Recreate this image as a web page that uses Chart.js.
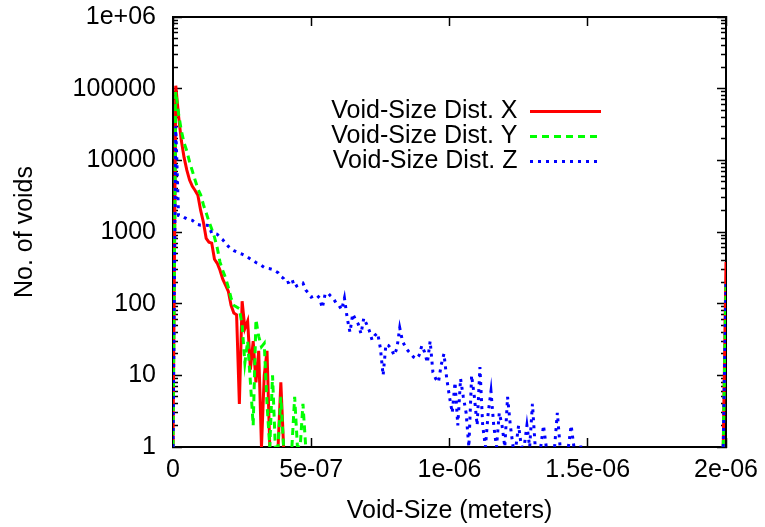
<!DOCTYPE html>
<html>
<head>
<meta charset="utf-8">
<title>Void-size distribution</title>
<script src="https://cdn.jsdelivr.net/npm/chart.js@4.4.1/dist/chart.umd.min.js"></script>
<style>
  html, body { margin: 0; padding: 0; background: #fff; }
  canvas { display: block; }
</style>
</head>
<body>
<canvas id="voidChart" width="765" height="527"></canvas>
<script>
// histogram bins are 10 nm wide, bin k sits at x = k * binWidth
const binWidth = 1e-8;
const lastBin = 200; // everything from 2e-06 m up lands in this bin

// counts per bin (null = empty bin)
const countsX = [1, 110000, 42000, 19000, 11000, 7300, 5300, 4350, 3800, 3250,
  2000, 1370, 815, 720, 700, 417, 366, 293, 220, 181,
  149, 95, 74, 70, 4, 108, 45, 57, 12, 30,
  8, 22, 1, 10, 22, 1, null, null, 1, 8, 1];

const countsY = [1, 90000, 45000, 26000, 17500, 13500, 9500, 7100, 5300, 4000,
  3300, 2400, 1850, 1400, 1100, 850, 600, 380, 290, 230,
  170, 120, 95, 90, 85, 50, 15, 30, 8, 2,
  60, 35, 25, 28, 4, 1, 10, 1, 1, 5,
  1, null, null, 1, 5, 1, 1, 4, 1];

const countsZ = [1, 30000, 1700, 1680, 1600, 1530, 1490, 1450, 1350, 1270,
  1240, 1240, 1240, 1230, 960, 950, 930, 840, 780, 700,
  630, 580, 550, 530, 505, 490, 470, 445, 420, 400,
  375, 360, 340, 320, 312, 308, 300, 285, 270, 240,
  225, 195, 200, 221, 170, 180, 188, 194, 155, 140,
  123, 128, 132, 120, 87, 135, 141, 128, 118, 102,
  95, 82, 120, 63, 40, 72, 60, 52, 38, 63,
  52, 42, 31, 36, 39, 24, 10, 27, 26, 23,
  19, 24, 46, 30, 25, 22, 20, 18, 17, 19,
  26, 21, 15, 30, 11, 9, 8, 14, 20, 9,
  5, 3, 8, 2, 9, 5, 3, 1, 10, 5,
  2, 13, 2, 1, 3, 6, 2, 1, 3, 2,
  1, 5, 2, 1, 1, 2, 1, 1, 2, 1,
  4, 1, null, 1, 2, 1, null, null, 1, 3,
  1, null, null, 1, 2, 1, null, 1, 1];

// overflow bin counts
const overflowX = 380;
const overflowY = 190;
const overflowZ = 190;

const seriesLabels = ['Void-Size Dist. X', 'Void-Size Dist. Y', 'Void-Size Dist. Z'];

const xTicks = [0, 5e-7, 1e-6, 1.5e-6, 2e-6];
const xTickLabels = ['0', '5e-07', '1e-06', '1.5e-06', '2e-06'];
const yTicks = [1, 10, 100, 1000, 10000, 100000, 1000000];
const yTickLabels = ['1', '10', '100', '1000', '10000', '100000', '1e+06'];

// 2..9 inside every decade
const yMinorTicks = [];
yTicks.slice(0, -1).forEach(d => {
  for (let m = 2; m <= 9; m++) yMinorTicks.push(m * d);
});

function binPoints(counts, overflow) {
  const pts = counts.map((c, k) => ({ x: k * binWidth, y: c }));
  pts.push({ x: counts.length * binWidth, y: null });
  pts.push({ x: (lastBin - 1) * binWidth, y: 1 });
  pts.push({ x: lastBin * binWidth, y: overflow });
  return pts;
}

Chart.defaults.font.family = '"Liberation Sans", Arial, sans-serif';
Chart.defaults.font.size = 25;
Chart.defaults.color = '#000';

const setTicks = values => scale => {
  scale.ticks = values.map(v => ({ value: v }));
};

// fixed axis thickness, no extra room for label overhang
const fixSize = size => s => {
  if (s.isHorizontal()) s.height = size; else s.width = size;
  s.paddingTop = s.paddingBottom = s.paddingLeft = s.paddingRight = 0;
};

// tick marks point into the plot, gnuplot style
function frameAxis(pos, type, opts) {
  const horizontal = pos === 'top' || pos === 'bottom';
  return Object.assign({
    type: type,
    position: pos,
    min: horizontal ? 0 : 1,
    max: horizontal ? 2e-6 : 1e6,
    ticks: { display: false, autoSkip: false },
    grid: { drawOnChartArea: false, tickLength: -9, tickWidth: 1.5, tickColor: '#000' },
    border: { display: true, color: '#000', width: 2 },
    afterFit: fixSize(0)
  }, opts);
}

function minorAxis(pos) {
  return frameAxis(pos, 'logarithmic', {
    weight: 0,
    afterBuildTicks: setTicks(yMinorTicks),
    grid: { drawOnChartArea: false, tickLength: -5, tickWidth: 1.5, tickColor: '#000' },
    border: { display: false }
  });
}

// move the legend box to its spot inside the plot
const legendPlacement = {
  id: 'legendPlacement',
  afterLayout(chart) {
    const lg = chart.legend;
    const pad = lg.options.labels.padding;
    const sampleRight = 601;
    const top = 99;
    lg.left = sampleRight - lg.width + pad;
    lg.right = lg.left + lg.width;
    lg.top = top;
    lg.bottom = top + lg.height;
  }
};

new Chart(document.getElementById('voidChart'), {
  type: 'line',
  data: {
    datasets: [
      {
        label: seriesLabels[0],
        data: binPoints(countsX, overflowX),
        borderColor: '#ff0000',
        backgroundColor: '#ff0000',
        borderWidth: 3,
        order: 3
      },
      {
        label: seriesLabels[1],
        data: binPoints(countsY, overflowY),
        borderColor: '#00ff00',
        backgroundColor: '#00ff00',
        borderWidth: 3,
        borderDash: [7, 5],
        order: 2
      },
      {
        label: seriesLabels[2],
        data: binPoints(countsZ, overflowZ),
        borderColor: '#0000ff',
        backgroundColor: '#0000ff',
        borderWidth: 3,
        borderDash: [3, 5],
        order: 1
      }
    ]
  },
  options: {
    responsive: false,
    devicePixelRatio: 1,
    animation: false,
    layout: { autoPadding: false, padding: { left: 0, right: 39, top: 17, bottom: 0 } },
    elements: { point: { radius: 0 }, line: { tension: 0 } },
    scales: {
      x: frameAxis('bottom', 'linear', {
        afterBuildTicks: setTicks(xTicks),
        afterFit: fixSize(80),
        ticks: { autoSkip: false, maxRotation: 0, padding: 17, callback: (v, i) => xTickLabels[i] },
        title: { display: true, text: 'Void-Size (meters)', padding: { top: 0, bottom: 1 } }
      }),
      xTop: frameAxis('top', 'linear', { afterBuildTicks: setTicks(xTicks) }),
      y: frameAxis('left', 'logarithmic', {
        weight: 1,
        afterBuildTicks: setTicks(yTicks),
        afterFit: fixSize(173),
        ticks: { autoSkip: false, padding: 26, callback: (v, i) => yTickLabels[i] },
        title: { display: true, text: 'No. of voids', padding: { top: 10, bottom: 0 } }
      }),
      yMinor: minorAxis('left'),
      yRight: frameAxis('right', 'logarithmic', { weight: 1, afterBuildTicks: setTicks(yTicks) }),
      yRightMinor: minorAxis('right')
    },
    plugins: {
      legend: {
        position: 'chartArea',
        align: 'start',
        rtl: true,
        labels: {
          usePointStyle: true,
          pointStyle: 'line',
          pointStyleWidth: 71,
          padding: 0,
          color: '#000',
          sort: (a, b) => a.datasetIndex - b.datasetIndex,
          // legend samples take the dash pattern of their line
          generateLabels: chart => Chart.defaults.plugins.legend.labels.generateLabels(chart).map(item => {
            const ds = chart.data.datasets[item.datasetIndex];
            return Object.assign(item, { lineDash: ds.borderDash || [], lineWidth: ds.borderWidth });
          })
        }
      },
      tooltip: { enabled: false }
    }
  },
  plugins: [legendPlacement]
});
</script>
</body>
</html>
